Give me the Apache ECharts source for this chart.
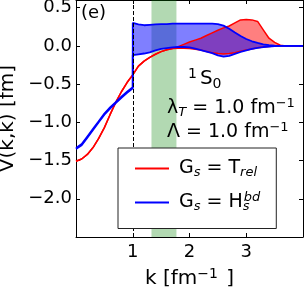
<!DOCTYPE html>
<html><head><meta charset="utf-8">
<script src="https://cdn.jsdelivr.net/npm/echarts@6/dist/echarts.min.js"></script>
<style>html,body{margin:0;padding:0;background:#fff}#c{width:304px;height:291px}</style>
</head><body><div id="c"></div>
<script>
// momentum grid (k = 1.0 appears twice: the blue curves jump there)
const kGrid = [0,0.1,0.2,0.3,0.4,0.5,0.6,0.7,0.8,0.9,1.0,
  1.0,1.1,1.2,1.3,1.4,1.5,1.6,1.7,1.8,1.9,2.0,2.1,2.2,2.3,2.4,2.5,2.6,2.7,2.8,2.9,3.0,
  3.1,3.2,3.3,3.4,3.5,3.6,3.7,3.8,3.9,4.0];
// G_s = T_rel (red): lower and upper edge of band
const redLow = [-1.51,-1.48,-1.42,-1.33,-1.21,-1.07,-0.90,-0.74,-0.60,-0.48,-0.38,
  -0.38,-0.265,-0.20,-0.15,-0.11,-0.075,-0.05,-0.035,-0.03,-0.03,-0.035,-0.045,-0.055,-0.075,-0.09,-0.10,-0.105,-0.10,-0.09,-0.07,-0.055,
  -0.04,-0.025,-0.015,-0.008,-0.003,0,0,0,0,0];
const redUp = [-1.51,-1.48,-1.42,-1.33,-1.21,-1.07,-0.90,-0.74,-0.60,-0.48,-0.38,
  -0.38,-0.265,-0.20,-0.15,-0.11,-0.075,-0.05,-0.035,-0.01,0.02,0.05,0.075,0.10,0.135,0.17,0.205,0.235,0.26,0.30,0.34,0.345,
  0.34,0.32,0.21,0.10,0.045,0.008,0,0,0,0];
// G_s = H_s^bd (blue): lower and upper edge of band
const blueLow = [-1.35,-1.30,-1.20,-1.10,-1.00,-0.90,-0.82,-0.75,-0.68,-0.615,-0.555,
  -0.12,-0.11,-0.10,-0.085,-0.06,-0.04,-0.03,-0.02,-0.015,-0.015,-0.02,-0.035,-0.055,-0.075,-0.095,-0.125,-0.14,-0.13,-0.105,-0.08,-0.06,
  -0.04,-0.025,-0.015,-0.008,-0.003,0,0,0,0,0];
const blueUp = [-1.335,-1.285,-1.185,-1.085,-0.985,-0.885,-0.805,-0.735,-0.665,-0.60,-0.54,
  0.30,0.28,0.27,0.275,0.28,0.285,0.285,0.29,0.29,0.29,0.29,0.29,0.29,0.29,0.29,0.285,0.265,0.225,0.175,0.13,0.09,
  0.06,0.038,0.02,0.01,0.004,0,0,0,0,0];
const greenBand = [1.33, 1.77];
const cutLine = 1;
const xTicks = [0,1,2,3,4];
const yTicks = [-2.5,-2.0,-1.5,-1.0,-0.5,0.0,0.5];

const FF = 'DejaVu Sans';
const pairs = arr => kGrid.map((k,i)=>[k, arr[i]]);

function band(name, up, lo, color){
  return {
    type:'custom', name, z:1, silent:true,
    data: kGrid.map((k,i)=>[k, lo[i], up[i]]),
    encode:{x:0, y:[1,2]},
    renderItem(params, api){
      if (params.dataIndex !== 0) return null;
      const pts = [];
      for (let i=0;i<kGrid.length;i++) pts.push(api.coord([kGrid[i], up[i]]));
      for (let i=kGrid.length-1;i>=0;i--) pts.push(api.coord([kGrid[i], lo[i]]));
      return {type:'polygon', shape:{points:pts}, style:{fill:color}};
    }
  };
}
function line(name, arr, color, w){
  return {type:'line', name, data:pairs(arr), showSymbol:false, symbol:'none', z:4,
    itemStyle:{color}, lineStyle:{color, width:w}, silent:true};
}

const axisCommon = {
  axisLine:{show:true, onZero:false, lineStyle:{color:'#000', width:1}},
  axisTick:{show:true, inside:true, length:4, lineStyle:{color:'#000'}},
  splitLine:{show:false}
};

const chart = echarts.init(document.getElementById('c'), null, {renderer:'canvas'});
chart.setOption({
  animation:false,
  backgroundColor:'#fff',
  grid:{left:76, right:1, top:0, bottom:54, containLabel:false, outerBoundsMode:'none'},
  xAxis:[
    Object.assign({type:'value', min:xTicks[0], max:xTicks[xTicks.length-1], interval:1, position:'bottom',
      axisLabel:{showMinLabel:false, showMaxLabel:false, margin:6, fontSize:18, fontFamily:FF, color:'#000'},
      name:'{m|k [fm}{sup|−1}{m| ]}', nameLocation:'middle', nameGap:30,
      nameTextStyle:{fontFamily:FF, color:'#000', rich:{
        m:{fontSize:20, fontFamily:FF, color:'#000'},
        sup:{fontSize:14, fontFamily:FF, color:'#000', padding:[0,2,10,0]}}}
    }, axisCommon),
    Object.assign({type:'value', min:xTicks[0], max:xTicks[xTicks.length-1], interval:1, position:'top',
      axisLabel:{show:false}}, axisCommon)
  ],
  yAxis:[
    Object.assign({type:'value', min:yTicks[0], max:0.6, interval:0.5, position:'left',
      axisLabel:{showMinLabel:false, showMaxLabel:false, margin:4, fontSize:18, fontFamily:FF, color:'#000',
        formatter:v=>(Math.abs(v)<1e-9?0:v).toFixed(1).replace('-','\u2212')},
      name:'V(k,k) [fm]', nameLocation:'middle', nameGap:52,
      nameTextStyle:{fontSize:20, fontFamily:FF, color:'#000'}
    }, axisCommon),
    Object.assign({type:'value', min:yTicks[0], max:0.6, interval:0.5, position:'right',
      axisLabel:{show:false}}, axisCommon)
  ],
  legend:{
    data:['Trel','Hbd'], orient:'vertical', left:118, top:148, z:10,
    icon:'rect', itemWidth:34, itemHeight:2, itemGap:12,
    backgroundColor:'#fff', borderColor:'#222', borderWidth:1, borderRadius:0,
    padding:[11,16,15,17], selectedMode:false,
    textStyle:{fontFamily:FF, fontSize:19, color:'#000', rich:{
      sp:{width:5},
      m:{fontSize:19, fontFamily:FF, color:'#000'},
      sub:{fontSize:13, fontFamily:FF, fontStyle:'italic', color:'#000', padding:[9,0,0,0]},
      subz:{fontSize:13, fontFamily:FF, fontStyle:'italic', color:'#000', padding:[9,0,0,0], width:1},
      sup:{fontSize:13, fontFamily:FF, fontStyle:'italic', color:'#000', padding:[0,0,9,0]}
    }},
    formatter: n => n==='Trel' ? '{sp| }{m|G}{sub|s}{m| = T}{sub|rel}' : '{sp| }{m|G}{sub|s}{m| = H}{subz|s}{sup|bd}'
  },
  graphic:[
    {type:'text', left:81, top:4, z:20, style:{text:'(e)', font:'18px "DejaVu Sans"', fill:'#000'}},
    {type:'text', left:188, top:67, z:20, style:{text:'{sup|1}{m|S}{sub|0}', rich:{
      m:{fontSize:20, fontFamily:FF, fill:'#000', color:'#000'},
      sup:{fontSize:14, fontFamily:FF, color:'#000', padding:[0,3,10,0]},
      sub:{fontSize:14, fontFamily:FF, color:'#000', padding:[10,0,0,0]}}}},
    {type:'text', left:167, top:97, z:20, style:{text:'{m|λ}{sub|T}{m| = 1.0 fm}{sup|−1}', rich:{
      m:{fontSize:19, fontFamily:FF, color:'#000'},
      sup:{fontSize:13, fontFamily:FF, color:'#000', padding:[0,0,9,0]},
      sub:{fontSize:13, fontFamily:FF, fontStyle:'italic', color:'#000', padding:[9,0,0,0]}}}},
    {type:'text', left:167, top:121, z:20, style:{text:'{m|Λ = 1.0 fm}{sup|−1}', rich:{
      m:{fontSize:19, fontFamily:FF, color:'#000'},
      sup:{fontSize:13, fontFamily:FF, color:'#000', padding:[0,0,9,0]}}}}
  ],
  series:[
    band('redBand', redUp, redLow, 'rgba(255,0,0,0.5)'),
    band('blueBand', blueUp, blueLow, 'rgba(0,0,255,0.5)'),
    {type:'line', name:'guides', data:[], z:3, silent:true,
      markArea:{silent:true, itemStyle:{color:'rgba(0,128,0,0.3)'}, data:[[{xAxis:greenBand[0]},{xAxis:greenBand[1]}]]},
      markLine:{silent:true, symbol:'none', label:{show:false}, lineStyle:{color:'#000', type:[4,2], width:1},
        data:[{xAxis:cutLine}]}},
    line('Trel', redLow, '#ff0000', 1.5),
    line('TrelUp', redUp, '#ff0000', 1.5),
    line('Hbd', blueLow, '#0000ff', 1.8),
    line('HbdUp', blueUp, '#0000ff', 1.8)
  ]
});
</script></body></html>
